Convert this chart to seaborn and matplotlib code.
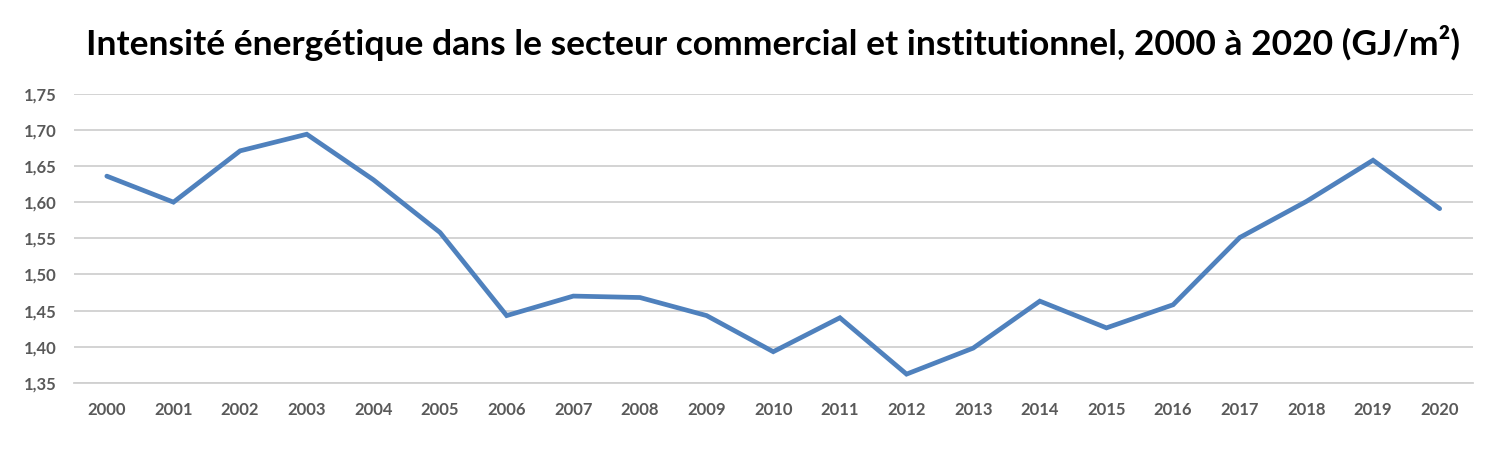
import matplotlib
matplotlib.use("Agg")
import matplotlib.pyplot as plt
import seaborn as sns
import pandas as pd
from matplotlib.ticker import FuncFormatter

years = ["2000", "2001", "2002", "2003", "2004", "2005", "2006", "2007", "2008", "2009",
         "2010", "2011", "2012", "2013", "2014", "2015", "2016", "2017", "2018", "2019", "2020"]
intensity = [1.636, 1.600, 1.671, 1.694, 1.631, 1.558, 1.443, 1.470, 1.468, 1.443,
             1.393, 1.440, 1.362, 1.398, 1.463, 1.426, 1.458, 1.551, 1.601, 1.658, 1.591]
y_ticks = [1.35, 1.40, 1.45, 1.50, 1.55, 1.60, 1.65, 1.70, 1.75]
title = "Intensité énergétique dans le secteur commercial et institutionnel, 2000 à 2020 (GJ/m²)"

sns.set_theme(style="white")
plt.rcParams['font.family'] = ['Lato', 'DejaVu Sans']

df = pd.DataFrame({"idx": range(len(years)), "year": years, "value": intensity})

fig = plt.figure(figsize=(15, 4.53), dpi=100)
ax = fig.add_axes([0.049, 0.155, 0.933, 0.638])

sns.lineplot(data=df, x="idx", y="value", ax=ax, color="#4F81BD", linewidth=3.4,
             solid_joinstyle="miter", solid_capstyle="round")

ax.set_xlim(-0.5, len(years) - 0.5)
ax.set_ylim(y_ticks[0], y_ticks[-1])
ax.set_xticks(range(len(years)))
ax.set_xticklabels(years)
ax.set_yticks(y_ticks)
ax.yaxis.set_major_formatter(FuncFormatter(lambda v, p: f"{v:.2f}".replace(".", ",")))
ax.set_xlabel("")
ax.set_ylabel("")

ax.grid(axis="y", color="#D0D0D0", linewidth=1.3)
ax.set_axisbelow(True)
for s in ["top", "right", "left"]:
    ax.spines[s].set_visible(False)
ax.spines["bottom"].set_color("#D0D0D0")
ax.spines["bottom"].set_linewidth(1.3)
ax.tick_params(axis="both", length=0, labelsize=12, labelcolor="#595959")
ax.tick_params(axis="x", pad=14)
ax.tick_params(axis="y", pad=12)
for lab in ax.get_xticklabels() + ax.get_yticklabels():
    lab.set_fontweight("bold")

fig.text(0.515, 0.905, title, ha="center", va="center", fontsize=25.5, fontweight="bold", color="black")

fig.savefig("out.png", dpi=100, facecolor="white")
